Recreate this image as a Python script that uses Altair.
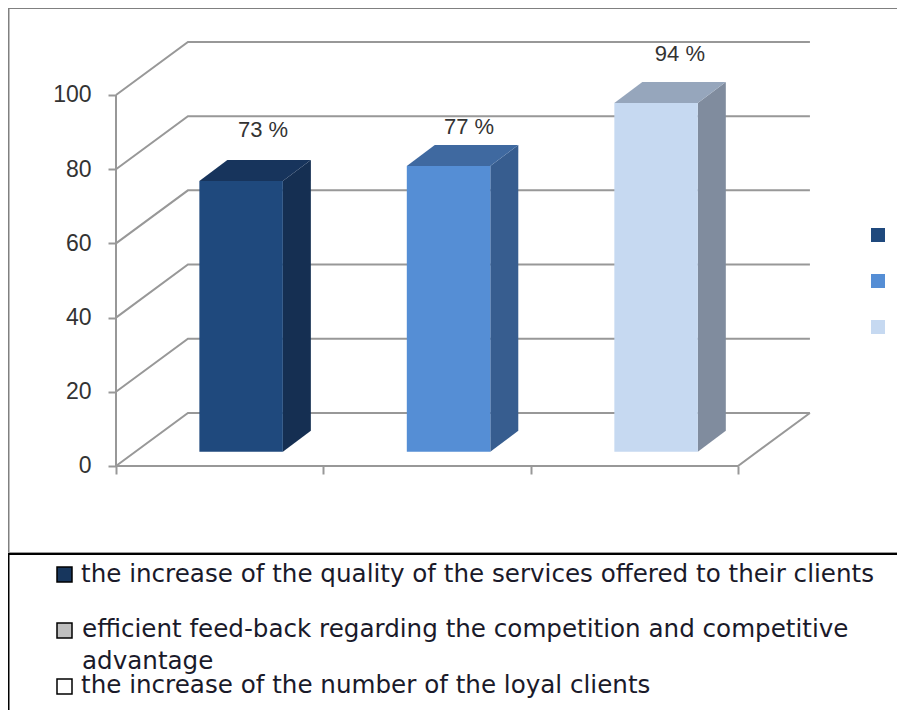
import altair as alt
import pandas as pd

# ---- chart values
series = ["the increase of the quality", "efficient feed-back", "the increase of loyal clients"]
values = [73, 77, 94]
label_texts = ["73 %", "77 %", "94 %"]
label_x = [0.709, 1.703, 2.72]
label_y = [90.6, 91.4, 111.0]
front_colors = ["#1f497d", "#558ed5", "#c6d9f1"]
side_colors = ["#152f52", "#375d8f", "#808c9e"]
top_colors = ["#17345c", "#3f69a0", "#96a6bc"]
y_ticks = [0, 20, 40, 60, 80, 100]
x_ticks = [0, 1, 2, 3]
bar_centers = [0.6035, 1.604, 2.605]

# ---- 3-D geometry in axis units
WALL_DX, WALL_DY = 0.347, 14.3
BAR_W, BAR_DX, BAR_DY, BAR_BASE = 0.4027, 0.135, 5.66, 3.85
X_MAX = 3

W, H = 889, 702
GRID = "#989898"
x_scale = alt.Scale(domain=[-0.5209, 3.767], range=[0, W], nice=False, zero=False)
y_scale = alt.Scale(domain=[-65.77, 123.45], range=[H, 0], nice=False, zero=False)
x_axis = alt.Axis(values=x_ticks, labels=False, title=None, domain=False, grid=False,
                  orient="bottom", offset=-244, tickSize=8, tickWidth=2, tickColor=GRID)
y_axis = alt.Axis(values=y_ticks, title=None, domain=False, grid=False, orient="left",
                  offset=-108, tickSize=8, tickWidth=2, tickColor=GRID, labelPadding=17,
                  labelFont="Liberation Sans", labelFontSize=23, labelColor="#333333")
X = alt.X("x:Q", scale=x_scale, axis=x_axis)
Y = alt.Y("y:Q", scale=y_scale, axis=y_axis)

# ---- walls and floor
grid_rows = []
for t in y_ticks:
    grid_rows += [
        dict(g=t, s=0, x=0, y=t),
        dict(g=t, s=1, x=WALL_DX, y=t + WALL_DY),
        dict(g=t, s=2, x=X_MAX + WALL_DX, y=t + WALL_DY),
    ]
grid_rows += [dict(g="f", s=0, x=0, y=0), dict(g="f", s=1, x=X_MAX, y=0),
              dict(g="f", s=2, x=X_MAX + WALL_DX, y=WALL_DY)]
grid_rows += [dict(g="a", s=0, x=0, y=0), dict(g="a", s=1, x=0, y=100)]
grid = alt.Chart(pd.DataFrame(grid_rows)).mark_line(color=GRID, strokeWidth=2).encode(
    x=X, y=Y, detail="g:N", order="s:Q")

# ---- bars
front_rows, side_rows, top_rows = [], [], []
for i, (n, v, c) in enumerate(zip(series, values, bar_centers)):
    l, r = c - BAR_W / 2, c + BAR_W / 2
    front_rows.append(dict(n=n, x=l, x2=r, y=BAR_BASE, y2=BAR_BASE + v))
    side_rows += [dict(n=n, c=side_colors[i], s=0, x=r, y=BAR_BASE, y2=BAR_BASE + v),
                  dict(n=n, c=side_colors[i], s=1, x=r + BAR_DX, y=BAR_BASE + BAR_DY,
                       y2=BAR_BASE + BAR_DY + v)]
    top_rows += [dict(n=n, c=top_colors[i], s=0, x=l, x2=r, y=BAR_BASE + v),
                 dict(n=n, c=top_colors[i], s=1, x=l + BAR_DX, x2=r + BAR_DX, y=BAR_BASE + v + BAR_DY)]

front = alt.Chart(pd.DataFrame(front_rows)).mark_bar(cornerRadius=0).encode(
    x=X, x2="x2:Q", y=Y, y2="y2:Q",
    color=alt.Color("n:N",
                    scale=alt.Scale(domain=series, range=front_colors),
                    legend=alt.Legend(orient="none", legendX=863, legendY=220, title=None,
                                      labelExpr="''", symbolType="square", symbolSize=196,
                                      symbolStrokeWidth=0, rowPadding=32, labelFontSize=1,
                                      labelLimit=1)))
side = alt.Chart(pd.DataFrame(side_rows)).mark_area(orient="vertical").encode(
    x=X, y=Y, y2="y2:Q", fill=alt.Fill("c:N", scale=None), detail="n:N")
top = alt.Chart(pd.DataFrame(top_rows)).mark_area(orient="horizontal").encode(
    x=X, x2="x2:Q", y=Y, fill=alt.Fill("c:N", scale=None), detail="n:N")

labels = alt.Chart(pd.DataFrame(dict(x=label_x, y=label_y, t=label_texts))).mark_text(
    font="Liberation Sans", fontSize=22, color="#333333", baseline="middle", align="center"
).encode(x=X, y=Y, text="t:N")

# ---- frame
ONE = pd.DataFrame({"a": [0]})

def hline(px_y, x0, x1, color, w):
    return alt.Chart(ONE).mark_rule(color=color, strokeWidth=w).encode(
        x=alt.value(x0), x2=alt.value(x1), y=alt.value(px_y))

def vline(px_x, y0, y1, color, w):
    return alt.Chart(ONE).mark_rule(color=color, strokeWidth=w).encode(
        x=alt.value(px_x), y=alt.value(y0), y2=alt.value(y1))

frame = [
    hline(0, 0, W, "#808080", 2),
    vline(0.5, 0, 544, "#808080", 2),
    hline(544.5, 0, W, "#9a9a9a", 1),
    hline(546, 0, W, "#000000", 2),
    vline(0.5, 546, H, "#000000", 2),
]

# ---- lower key
key_text = ["the increase of the quality of the services offered to their clients",
            "efficient feed-back regarding the competition and competitive",
            "advantage",
            "the increase of the number of the loyal clients"]
key_x = [73, 74, 74, 73]
key_y = [573.5, 629, 661, 685]
key_fill = ["#17365d", "#bfbfbf", "#ffffff"]
key_top = [559, 615, 671]

key_labels = [
    alt.Chart(ONE).mark_text(font="DejaVu Sans", fontSize=24.6, color="#1a1a2a", align="left",
                             baseline="alphabetic", text=t).encode(x=alt.value(px), y=alt.value(py))
    for t, px, py in zip(key_text, key_x, key_y)
]
key_boxes = [
    alt.Chart(ONE).mark_rect(stroke="#000000", strokeWidth=1.5, fill=f).encode(
        x=alt.value(49), x2=alt.value(64), y=alt.value(t), y2=alt.value(t + 15))
    for f, t in zip(key_fill, key_top)
]

chart = alt.layer(grid, side, top, front, labels, *frame, *key_boxes, *key_labels).properties(
    width=W, height=H, padding=0, background="white",
    autosize=alt.AutoSizeParams(type="none")).configure_view(stroke=None)

chart.save("out.html", embed_options={"renderer": "svg", "actions": False})
